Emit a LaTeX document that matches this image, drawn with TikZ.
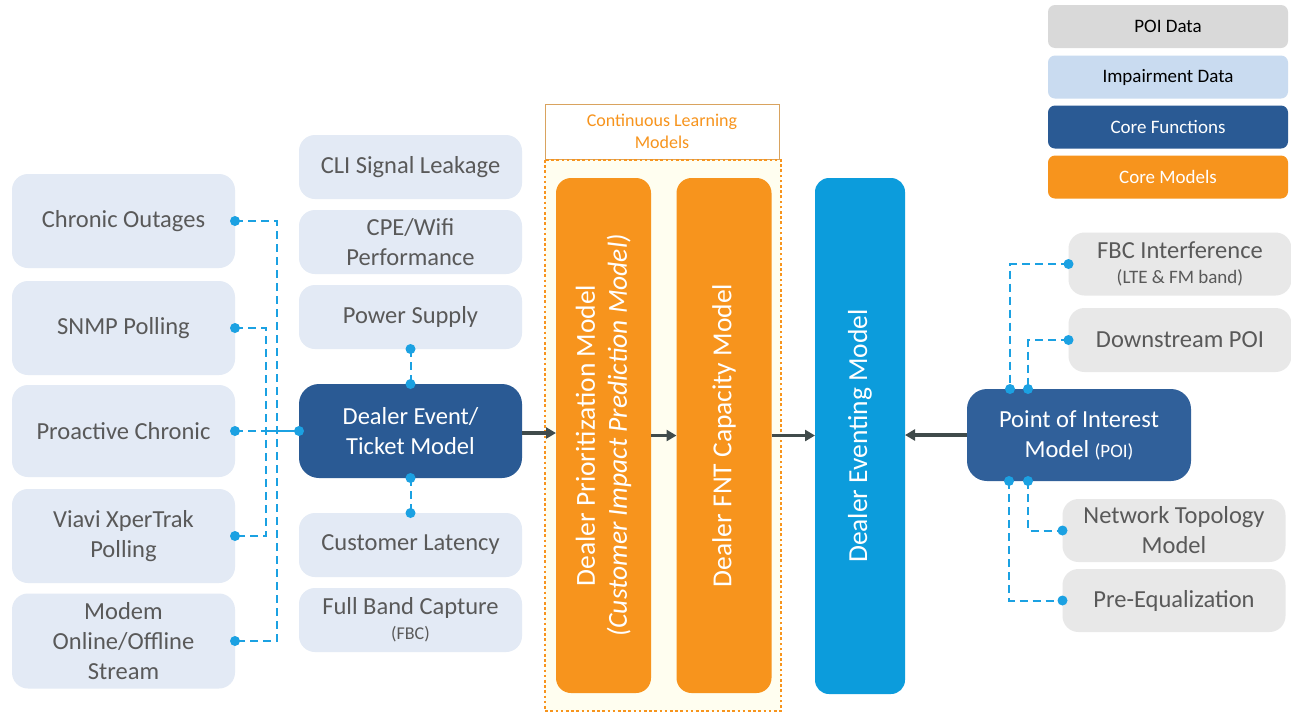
\documentclass[tikz,border=0pt]{standalone}
\usepackage{fontspec}
\setmainfont{Carlito}
\usetikzlibrary{arrows.meta,calc}
\definecolor{impfill}{HTML}{E3EAF5}
\definecolor{poifill}{HTML}{E8E8E8}
\definecolor{legpoi}{HTML}{D9D9D9}
\definecolor{legimp}{HTML}{C9DBF0}
\definecolor{corefill}{HTML}{2A5A94}
\definecolor{poimfill}{HTML}{30609A}
\definecolor{orangec}{HTML}{F7941D}
\definecolor{eventc}{HTML}{0C9CDC}
\definecolor{txtgray}{HTML}{595959}
\definecolor{dotc}{HTML}{1BA1E2}
\definecolor{arrowc}{HTML}{404B4B}
\definecolor{framec}{HTML}{D9A35F}
\definecolor{yellowbg}{HTML}{FFFEF0}
\tikzset{
  base/.style={rounded corners=16pt, inner sep=0pt, outer sep=0pt, align=center,
    font=\fontsize{24.5}{30}\selectfont},
  imp/.style={base, fill=impfill, text=txtgray, minimum width=223pt},
  poib/.style={base, fill=poifill, text=txtgray, minimum width=223pt, minimum height=63pt},
  leg/.style={base, rounded corners=7pt, minimum width=240pt, minimum height=43pt,
    font=\fontsize{19}{22}\selectfont},
  model/.style={base, rounded corners=15pt, minimum width=95pt, minimum height=515pt, fill=orangec},
  vtext/.style={rotate=90, text=white, align=center, font=\fontsize{27.5}{32}\selectfont},
  conn/.style={dotc, line width=2pt, dash pattern=on 8pt off 5pt},
  solidconn/.style={dotc, line width=2pt},
  flow/.style={arrowc, line width=3.2pt, -{Triangle[length=10pt,width=11pt]}},
}
\newcommand{\dotat}[1]{\fill[dotc] (#1) circle (5pt);}
\begin{document}
\begin{tikzpicture}[x=1pt,y=-1pt]
\useasboundingbox (0,0) rectangle (1291,713);
\fill[white] (0,0) rectangle (1291,713);

% legend
\node[leg, fill=legpoi, text=black] (lpoi) at (1168,26.5) {POI Data};
\node[leg, fill=legimp, text=black] (limp) at (1168,77) {Impairment Data};
\node[leg, fill=corefill, text=white] (lcore) at (1168,127) {Core Functions};
\node[leg, fill=orangec, text=white] (lmod) at (1168,177) {Core Models};

% left column
\node[imp, minimum height=94pt] (chronic) at (123.5,221) {Chronic Outages};
\node[imp, minimum height=94pt] (snmp) at (123.5,328) {SNMP Polling};
\node[imp, minimum height=92pt] (pro) at (123.5,431) {Proactive Chronic};
\node[imp, minimum height=94pt] (viavi) at (123.5,536) {Viavi XperTrak\\Polling};
\node[imp, minimum height=95pt] (modem) at (123.5,641) {Modem\\Online/Offline\\Stream};

% second column
\node[imp, minimum height=64pt] (cli) at (410.5,167) {CLI Signal Leakage};
\node[imp, minimum height=64pt] (cpe) at (410.5,242) {CPE/Wifi\\Performance};
\node[imp, minimum height=64pt] (power) at (410.5,317) {Power Supply};
\node[base, fill=corefill, text=white, minimum width=223pt, minimum height=94pt, rounded corners=20pt] (dealer) at (410.5,431) {Dealer Event/\\Ticket Model};
\node[imp, minimum height=64pt] (latency) at (410.5,545) {Customer Latency};
\node[imp, minimum height=64pt] (fbcap) at (410.5,620) {Full Band Capture\\[-5pt]{\fontsize{18}{20}\selectfont (FBC)}};

% continuous learning frame
\node[draw=framec, line width=1pt, minimum width=234pt, minimum height=55pt, inner sep=0pt,
  text=orangec, align=center, font=\fontsize{18}{22}\selectfont] (cltitle) at (662,131.5) {Continuous Learning\\Models};
\draw[orangec, fill=yellowbg, line width=2.6pt, dash pattern=on 2.6pt off 2.6pt] (545,160) rectangle (781,711);

% models
\node[model] (prio) at (603.5,435.5) {};
\node[vtext] (priot) at (prio.center) {Dealer Prioritization Model\\{\itshape (Customer Impact Prediction Model)}};
\node[model] (fnt) at (724,435.5) {};
\node[vtext] (fntt) at (fnt.center) {Dealer FNT Capacity Model};
\node[base, rounded corners=14pt, minimum width=90pt, minimum height=516pt, fill=eventc] (event) at (860,436) {};
\node[vtext] (eventt) at (event.center) {Dealer Eventing Model};

% POI model
\node[base, fill=poimfill, text=white, minimum width=224pt, minimum height=92pt, rounded corners=20pt] (poim) at (1079,435) {Point of Interest\\Model {\fontsize{19}{22}\selectfont (POI)}};

% right column
\node[poib] (fbci) at (1180,264) {FBC Interference\\[-5pt]{\fontsize{19}{21}\selectfont (LTE \& FM band)}};
\node[poib, minimum height=64pt] (down) at (1180,340) {Downstream POI};
\node[poib] (topo) at (1174,530.5) {Network Topology\\Model};
\node[poib] (preq) at (1174,600.5) {Pre-Equalization};

% left connectors
\draw[conn] (chronic.east) -- ++(42,0) |- (modem.east);
\draw[conn] (snmp.east) -- ++(31,0) |- (viavi.east);
\draw[conn] (pro.east) -- ++(31,0) coordinate (projoin);
\draw[solidconn] (projoin) -- (dealer.west);
\dotat{chronic.east}\dotat{snmp.east}\dotat{pro.east}\dotat{viavi.east}\dotat{modem.east}\dotat{dealer.west}

% vertical connectors
\draw[conn] (power.south) -- (dealer.north);
\draw[conn] (dealer.south) -- (latency.north);
\dotat{power.south}\dotat{dealer.north}\dotat{dealer.south}\dotat{latency.north}

% right connectors
\coordinate (pt1) at ($(poim.north west)+(43,0)$);
\coordinate (pt2) at ($(poim.north west)+(61,0)$);
\coordinate (pb1) at ($(poim.south west)+(42,0)$);
\coordinate (pb2) at ($(poim.south west)+(61,0)$);
\draw[conn] (fbci.west) -| (pt1);
\draw[conn] (down.west) -| (pt2);
\draw[conn] (pb2) |- (topo.west);
\draw[conn] (pb1) |- (preq.west);
\dotat{fbci.west}\dotat{down.west}\dotat{topo.west}\dotat{preq.west}
\dotat{pt1}\dotat{pt2}\dotat{pb1}\dotat{pb2}

% flow arrows
\draw[flow] ($(dealer.east)+(0,2)$) -- ($(dealer.east -| prio.west)+(0,2)$);
\draw[flow] (prio.east) -- (fnt.west);
\draw[flow] (fnt.east) -- (fnt.east -| event.west);
\draw[flow] (poim.west) -- (poim.west -| event.east);
\end{tikzpicture}
\end{document}
